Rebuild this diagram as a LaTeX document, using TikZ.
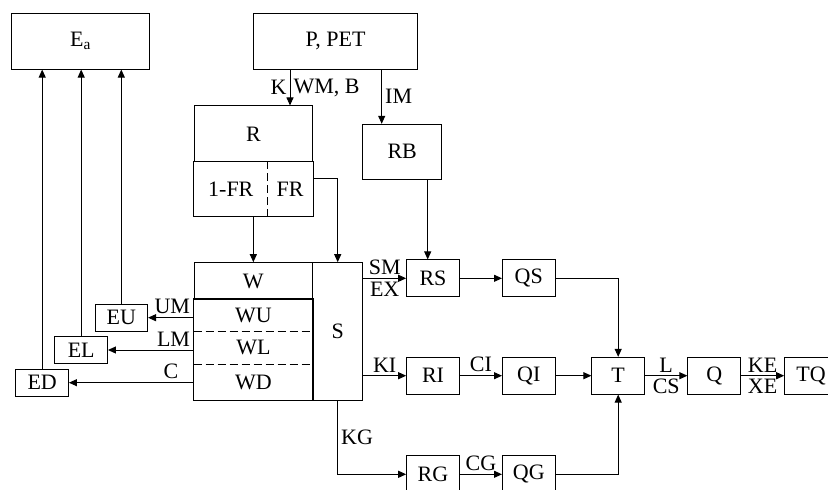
\documentclass[tikz,border=0pt]{standalone}
\usepackage{fontspec}
\setmainfont{Liberation Serif}
\usetikzlibrary{arrows.meta, positioning, calc}
\tikzset{
  box/.style={
    rectangle, draw, inner sep=0pt,
    minimum width=#1, minimum height=36.7pt,
    font=\fontsize{22}{24}\selectfont
  },
  box/.default=52.6pt,
  ebox/.style={box=52.5pt, minimum height=26.7pt},
  cell/.style={rectangle, inner sep=0pt, font=\fontsize{22}{24}\selectfont},
  arrow/.style={-{Triangle[length=8pt, width=7pt]}},
  lbl/.style={inner sep=3pt, font=\fontsize{22}{24}\selectfont},
  split/.style={dash pattern=on 8pt off 4pt},
}
\begin{document}
\begin{tikzpicture}[x=1pt, y=-1pt, line width=1pt]
  \useasboundingbox (0,0) rectangle (828,490);
  \clip (0,0) rectangle (828,490);

  % top row
  \node[box=137.6pt, minimum height=55.7pt] (Ea) at (80.5,41.2) {E\textsubscript{a}};
  \node[box=164.4pt, minimum height=55.7pt] (PPET) at (335.5,41.2) {P, PET};

  % R block
  \node[box=118.4pt, minimum height=55.7pt] (R) at (253.5,133.8) {R};
  \node[cell, minimum width=73pt, minimum height=54.3pt] (FRL) at (230.8,188.8) {1-FR};
  \node[cell, minimum width=45.4pt, minimum height=54.3pt] (FR) at (290,188.8) {FR};
  \draw (FRL.north west) rectangle (FR.south east);
  \draw[split] (FRL.north east) -- (FRL.south east);

  \node[box=79pt, minimum height=55pt] (RB) at (402.2,151.8) {RB};

  % W / S block
  \node[box=118.7pt, minimum height=36.6pt] (W) at (253.35,281) {W};
  \node[cell, minimum width=118.7pt, minimum height=31.4pt] (WU) at (253.35,315) {WU};
  \node[cell, minimum width=118.7pt, minimum height=33.3pt] (WL) at (253.35,347.35) {WL};
  \node[cell, minimum width=118.7pt, minimum height=36pt] (WD) at (253.35,382) {WD};
  \draw (WU.north west) rectangle (WD.south east);
  \draw[split] (WU.south west) -- (WU.south east);
  \draw[split] (WL.south west) -- (WL.south east);
  \node[box=50pt, minimum height=137.3pt] (S) at (337.7,331.35) {S};

  % E boxes
  \node[ebox] (EU) at (121.3,317.7) {EU};
  \node[ebox] (EL) at (81.2,350) {EL};
  \node[ebox] (ED) at (42.2,382.7) {ED};

  % right part
  \node[box] (RS) at (433,278.3) {RS};
  \node[box] (QS) at (528.8,278.3) {QS};
  \node[box] (RI) at (433,375.7) {RI};
  \node[box] (QI) at (528.8,375.7) {QI};
  \node[box] (T)  at (618.2,375.7) {T};
  \node[box] (Q)  at (714.2,375.7) {Q};
  \node[box] (TQ) at (811,375.7) {TQ};
  \node[box] (RG) at (433,474.3) {RG};
  \node[box] (QG) at (528.8,474.3) {QG};

  \coordinate (imx) at (381.7,0);
  \coordinate (rbx) at (427.7,0);

  \draw[arrow] (PPET.south -| FR) -- node[lbl, left] {K} node[lbl, right] {WM, B} (R.north -| FR);
  \draw[arrow] (PPET.south -| imx) -- node[lbl, right] {IM} (RB.north -| imx);
  \draw[arrow] (RB.south -| rbx) -- (RS.north -| rbx);
  \draw[arrow] (FRL.south -| W) -- (W.north);
  \draw[arrow] ([yshift=10.5pt]FR.east) -| (S.north);

  \draw[arrow] (S.east |- RS) -- node[lbl, above] {SM} node[lbl, below] {EX} (RS.west);
  \draw[arrow] (S.east |- RI) -- node[lbl, above] {KI} (RI.west);
  \draw[arrow] (S.south) |- node[lbl, right, pos=0.25] {KG} (RG.west);

  \draw[arrow] (WU.west |- EU) -- node[lbl, above left, pos=0] {UM} (EU.east);
  \draw[arrow] (WL.west |- EL) -- node[lbl, above left, pos=0] {LM} (EL.east);
  \draw[arrow] (WD.west |- ED) -- node[lbl, above, pos=0.18] {C} (ED.east);
  \draw[arrow] (EU.north) -- (EU.north |- Ea.south);
  \draw[arrow] (EL.north) -- (EL.north |- Ea.south);
  \draw[arrow] (ED.north) -- (ED.north |- Ea.south);

  \draw[arrow] (RS) -- (QS);
  \draw[arrow] (RI) -- node[lbl, above] {CI} (QI);
  \draw[arrow] (RG) -- node[lbl, above] {CG} (QG);
  \draw[arrow] (QI) -- (T);
  \draw[arrow] (QS) -| (T);
  \draw[arrow] (QG) -| (T);
  \draw[arrow] (T) -- node[lbl, above] {L} node[lbl, below] {CS} (Q);
  \draw[arrow] (Q) -- node[lbl, above] {KE} node[lbl, below] {XE} (TQ);

\end{tikzpicture}
\end{document}
